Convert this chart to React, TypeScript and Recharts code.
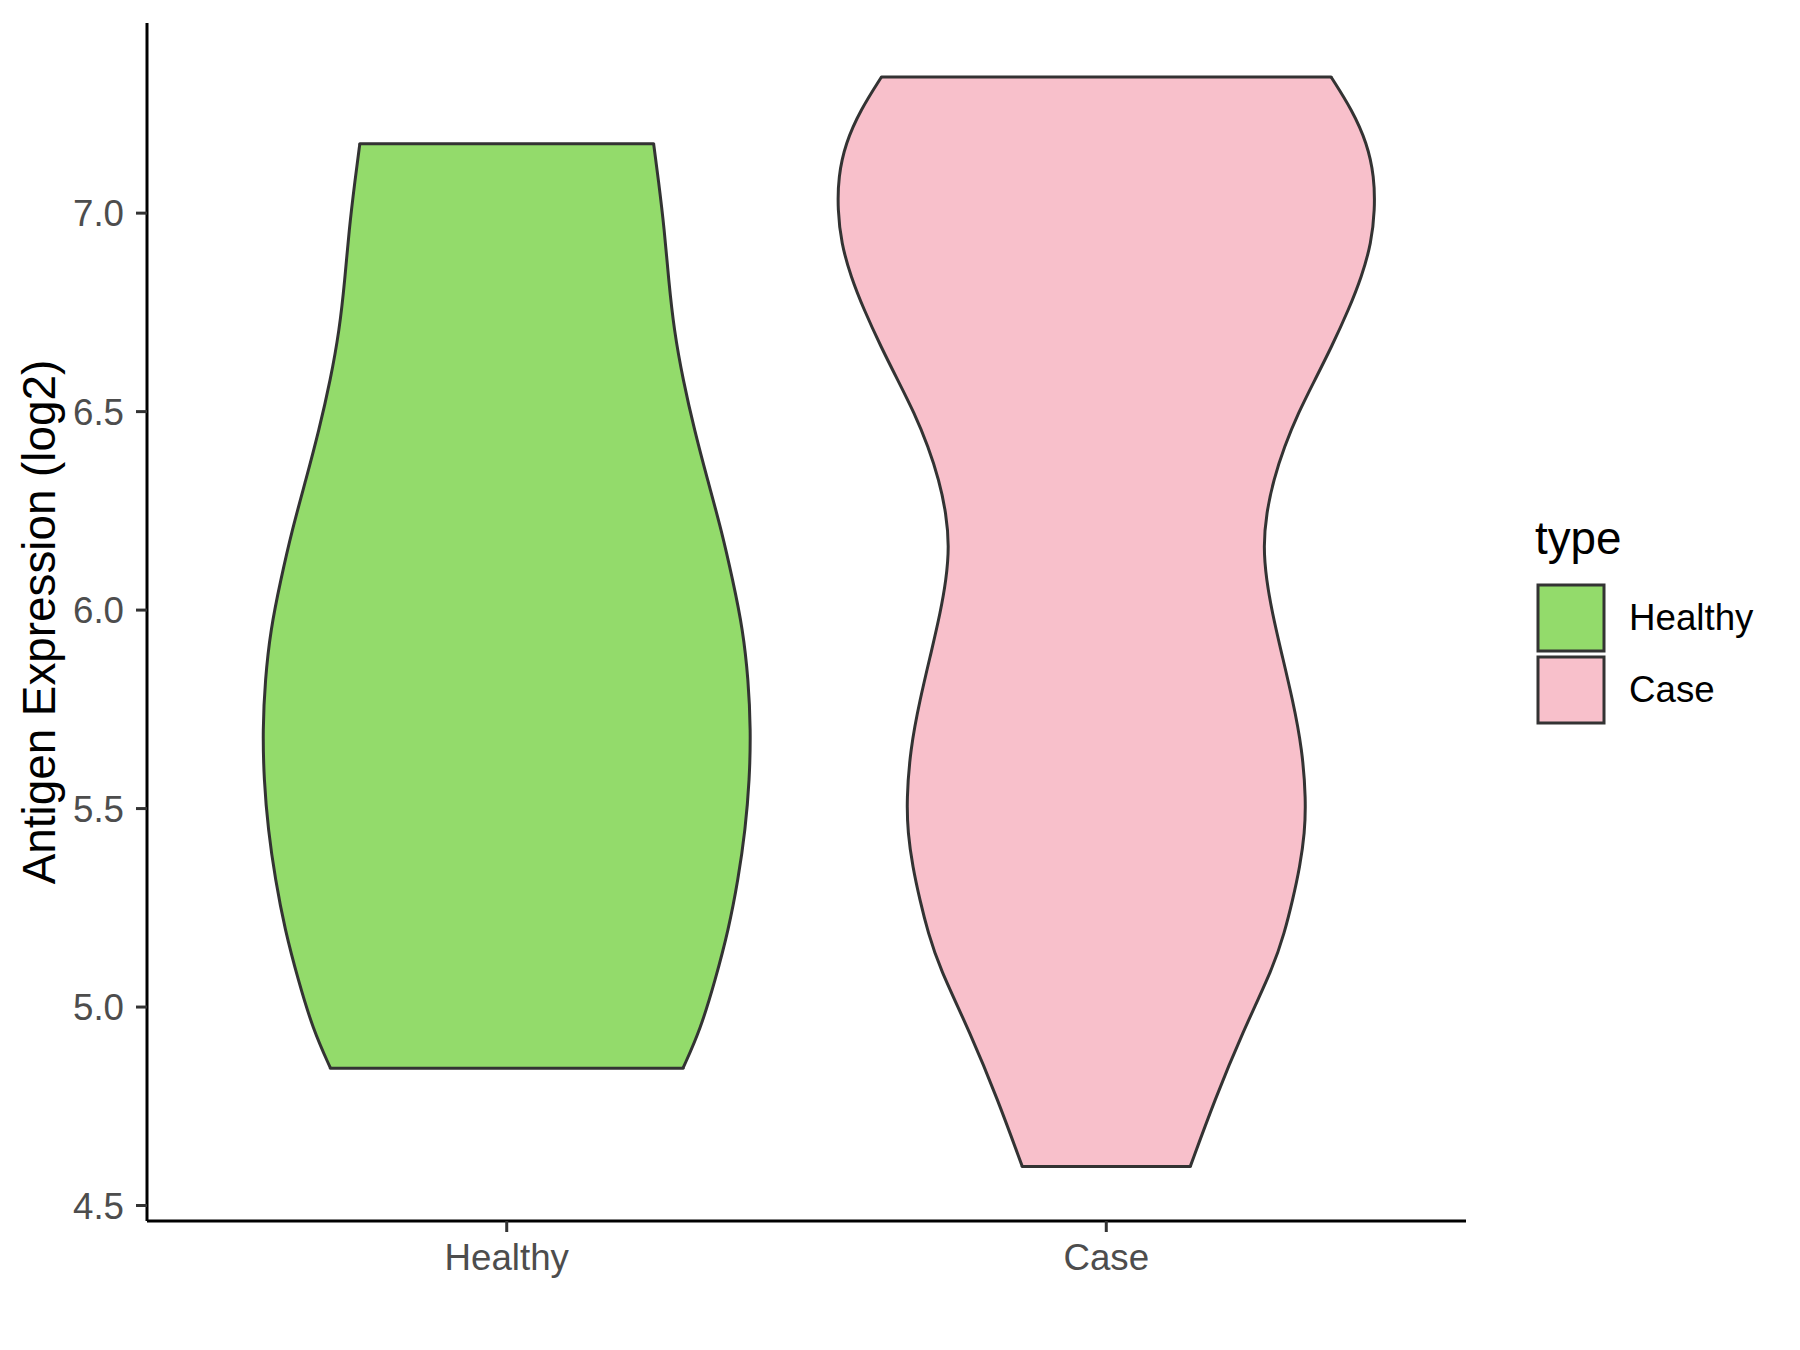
import { ComposedChart, Area, XAxis, YAxis, ReferenceLine, Legend } from "recharts"

const FONT = "'Liberation Sans', Arial, sans-serif"

const GROUPS = ["Healthy", "Case"]
const FILLS = ["#93DB6B", "#F8C0CB"]
const OUTLINE = "#333333"
const Y_TICKS = [4.5, 5.0, 5.5, 6.0, 6.5, 7.0]

// violin outlines: expression value and half width (category units)
const HEALTHY_Y = [4.846, 4.943, 5.069, 5.195, 5.321, 5.447, 5.573, 5.698, 5.824, 5.95, 6.076, 6.202, 6.328, 6.454, 6.58, 6.706, 6.832, 6.958, 7.084, 7.175]
const HEALTHY_W = [0.294, 0.323, 0.348, 0.37, 0.386, 0.398, 0.405, 0.407, 0.403, 0.394, 0.377, 0.358, 0.335, 0.313, 0.294, 0.279, 0.27, 0.263, 0.253, 0.245]

const CASE_Y = [4.598, 4.767, 4.935, 5.102, 5.186, 5.27, 5.354, 5.438, 5.522, 5.648, 5.774, 5.9, 5.992, 6.076, 6.16, 6.244, 6.328, 6.412, 6.496, 6.58, 6.664, 6.756, 6.84, 6.924, 7.008, 7.092, 7.176, 7.26, 7.343]
const CASE_W = [0.14, 0.181, 0.227, 0.279, 0.297, 0.311, 0.323, 0.331, 0.333, 0.327, 0.311, 0.291, 0.277, 0.267, 0.262, 0.267, 0.279, 0.297, 0.32, 0.348, 0.376, 0.404, 0.426, 0.442, 0.448, 0.447, 0.435, 0.41, 0.375]

const VIOLINS = [
  { key: "healthy", center: 1, ys: HEALTHY_Y, ws: HEALTHY_W },
  { key: "case", center: 2, ys: CASE_Y, ws: CASE_W },
]

// each violin gets its own rows, [left, right] range per y value
const violinRows = (v: (typeof VIOLINS)[number]) =>
  v.ys.map((y, i) => ({ y, [v.key]: [v.center - v.ws[i], v.center + v.ws[i]] }))

function YTitle(props: any) {
  const vb = props.viewBox ?? { x: 0, y: 23, height: 1198 }
  const x = vb.x + 55
  const y = vb.y + vb.height / 2
  return (
    <text
      x={x}
      y={y}
      transform={`rotate(-90 ${x} ${y})`}
      textAnchor="middle"
      fontFamily={FONT}
      fontSize={45.8}
      fill="#000"
    >
      Antigen Expression (log2)
    </text>
  )
}

function TypeLegend() {
  return (
    <div style={{ fontFamily: FONT, color: "#000" }}>
      <div style={{ fontSize: 45.8, lineHeight: "46px", height: 46, marginBottom: 20 }}>type</div>
      {GROUPS.map((g, i) => (
        <div key={g} style={{ display: "flex", alignItems: "center", height: 72 }}>
          <svg width={72} height={72}>
            <rect x={3} y={3} width={66} height={66} fill={FILLS[i]} stroke={OUTLINE} strokeWidth={3} />
          </svg>
          <span style={{ fontSize: 36.7, marginLeft: 22 }}>{g}</span>
        </div>
      ))}
    </div>
  )
}

export default function App() {
  const tick = { fill: "#4D4D4D", fontSize: 36.7, fontFamily: FONT }
  return (
    <div style={{ position: "absolute", left: 0, top: 0, width: 1800, height: 1350, background: "#fff" }}>
      <ComposedChart
        width={1800}
        height={1350}
        layout="vertical"
        margin={{ top: 23, right: 334, bottom: 69, left: 0 }}
      >
        <XAxis
          type="number"
          domain={[0.4, 2.6]}
          ticks={[1, 2]}
          interval={0}
          allowDataOverflow
          tickFormatter={(v) => GROUPS[v - 1]}
          height={60}
          tickSize={11}
          tickMargin={12}
          axisLine={{ stroke: "#000", strokeWidth: 3 }}
          tickLine={{ stroke: OUTLINE, strokeWidth: 3 }}
          tick={tick}
        />
        <YAxis
          type="number"
          dataKey="y"
          domain={[4.461, 7.479]}
          ticks={Y_TICKS}
          interval={0}
          reversed
          allowDataOverflow
          tickFormatter={(v) => v.toFixed(1)}
          width={147}
          tickSize={11}
          tickMargin={12}
          axisLine={{ stroke: "#000", strokeWidth: 3 }}
          tickLine={{ stroke: OUTLINE, strokeWidth: 3 }}
          tick={tick}
          label={{ content: YTitle }}
        />
        {VIOLINS.map((v, i) => (
          <Area
            key={v.key}
            data={violinRows(v)}
            dataKey={v.key}
            name={GROUPS[i]}
            type="basis"
            fill={FILLS[i]}
            fillOpacity={1}
            stroke={OUTLINE}
            strokeWidth={3}
            dot={false}
            activeDot={false}
            isAnimationActive={false}
          />
        ))}
        {VIOLINS.flatMap((v) =>
          [0, v.ys.length - 1].map((j) => (
            <ReferenceLine
              key={`${v.key}-${j}`}
              segment={[
                { x: v.center - v.ws[j], y: v.ys[j] },
                { x: v.center + v.ws[j], y: v.ys[j] },
              ]}
              stroke={OUTLINE}
              strokeWidth={3}
              strokeLinecap="round"
              ifOverflow="visible"
            />
          ))
        )}
        <Legend
          layout="horizontal"
          align="center"
          verticalAlign="middle"
          content={<TypeLegend />}
          wrapperStyle={{ left: 1535, top: 516, width: 260 }}
        />
      </ComposedChart>
    </div>
  )
}
